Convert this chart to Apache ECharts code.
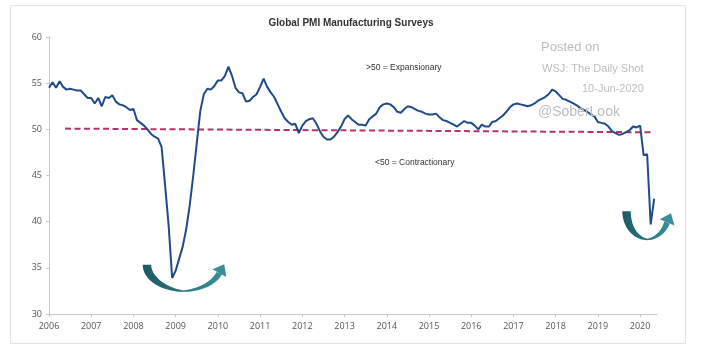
<!DOCTYPE html>
<html>
<head>
<meta charset="utf-8">
<script src="https://cdn.jsdelivr.net/npm/echarts@6/dist/echarts.min.js"></script>
<style>
  html, body { margin: 0; padding: 0; background: #fff; }
  #chart { width: 701px; height: 352px; }
</style>
</head>
<body>
<div id="chart"></div>
<script>
var startYear = 2006;
// monthly PMI, Jan 2006 .. May 2020
var pmiValues = [
  54.5, 55.1, 54.5, 55.2, 54.6, 54.3, 54.4, 54.3, 54.2, 54.2, 53.8, 53.4,
  53.4, 52.8, 53.4, 52.5, 53.5, 53.4, 53.7, 53.0, 52.7, 52.6, 52.4, 52.1,
  52.2, 51.0, 50.7, 50.4, 50.0, 49.5, 49.2, 49.0, 48.1, 43.9, 39.6, 33.9,
  34.7, 36.0, 37.3, 39.2, 41.8, 45.0, 48.5, 52.0, 53.8, 54.4, 54.3, 54.7,
  55.3, 55.3, 55.8, 56.8, 55.8, 54.5, 54.0, 53.9, 53.0, 53.1, 53.5, 53.8,
  54.6, 55.5, 54.6, 54.0, 53.5, 52.7, 51.9, 51.2, 50.8, 50.5, 50.6, 49.6,
  50.4, 50.9, 51.1, 51.2, 50.6, 49.8, 49.2, 48.9, 48.9, 49.2, 49.7, 50.3,
  51.1, 51.5, 51.1, 50.8, 50.5, 50.5, 50.4, 51.1, 51.4, 51.7, 52.4, 52.7,
  52.8, 52.7, 52.4, 51.9, 51.8, 52.2, 52.5, 52.4, 52.2, 52.0, 51.9, 51.7,
  51.6, 51.6, 51.7, 51.3, 51.0, 50.9, 50.7, 50.5, 50.3, 50.6, 50.9, 50.7,
  50.7, 50.4, 50.0, 50.5, 50.3, 50.3, 50.8, 50.9, 51.2, 51.5, 51.9, 52.4,
  52.7, 52.8, 52.7, 52.6, 52.5, 52.6, 52.8, 53.1, 53.3, 53.5, 53.8, 54.3,
  54.1, 53.7, 53.3, 53.2, 53.0, 52.8, 52.6, 52.3, 52.1, 51.9, 51.6, 51.4,
  50.8, 50.7, 50.6, 50.3, 49.8, 49.6, 49.4, 49.5, 49.7, 49.9, 50.3, 50.2,
  50.4, 47.2, 47.3, 39.7, 42.5
];
var yearTicks = [2006, 2007, 2008, 2009, 2010, 2011, 2012, 2013, 2014, 2015, 2016, 2017, 2018, 2019, 2020];
var trendLine = [[2006.38, 50.08], [2020.26, 49.68]];
// arrow anchors (data coords of the bowl bottom)
var arrowSpots = [[2009.19, 32.4], [2020.17, 38.0]];

var pmiData = pmiValues.map(function (v, i) {
  return [startYear + i / 12, v];
});

var chart = echarts.init(document.getElementById('chart'));

var option = {
  animation: false,
  backgroundColor: '#fff',
  grid: { left: 49, right: 44, top: 37, bottom: 38 },
  title: {
    text: 'Global PMI Manufacturing Surveys',
    left: 346, top: 13, textAlign: 'center',
    textStyle: { fontFamily: 'Liberation Sans', fontSize: 10, fontWeight: 'bold', color: '#333' }
  },
  xAxis: {
    type: 'value', min: 2006, max: 2020.4,
    axisLine: { lineStyle: { color: '#c8c8c8' } },
    axisTick: { show: true, length: 3, customValues: yearTicks, lineStyle: { color: '#c8c8c8' } },
    axisLabel: {
      customValues: yearTicks, margin: 8,
      color: '#555', fontSize: 9, fontFamily: 'Open Sans',
      formatter: function (v) { return String(Math.round(v)); }
    },
    splitLine: { show: false }
  },
  yAxis: {
    type: 'value', min: 30, max: 60, interval: 5,
    axisLine: { show: true, lineStyle: { color: '#c8c8c8' } },
    axisTick: { show: true, length: 3, lineStyle: { color: '#c8c8c8' } },
    axisLabel: { color: '#555', fontSize: 9, fontFamily: 'Open Sans', margin: 7 },
    splitLine: { show: false }
  },
  series: [
    {
      type: 'line', data: trendLine, symbol: 'none', z: 2,
      lineStyle: { color: '#b5336b', width: 2, type: [6, 3.5] }
    },
    {
      type: 'line', data: pmiData, symbol: 'none', z: 3,
      lineStyle: { color: '#1f4b87', width: 2 }
    }
  ]
};
chart.setOption(option);

// curved teal arrow: c is the bottom of the bowl in pixels
function arrowShapes(c, rx, ry, tEnd, wEnd) {
  var n = 40, cx = c[0], cy = c[1] - ry;
  function width(t) {
    if (t > Math.PI / 2) return 1.5 + 7 * Math.pow(Math.abs(Math.cos(t)), 1.1);
    return 1.5 + (wEnd - 1.5) * Math.pow(Math.cos(t) / Math.cos(tEnd), 1.1);
  }
  var outer = [], inner = [];
  for (var i = 0; i <= n; i++) {
    var t = Math.PI - (Math.PI - tEnd) * i / n;
    var w = width(t);
    outer.push([cx + rx * Math.cos(t), cy + ry * Math.sin(t)]);
    inner.push([cx + (rx - w) * Math.cos(t), cy + (ry - w) * Math.sin(t)]);
  }
  var poly = outer.concat(inner.reverse());
  var ex = cx + (rx - wEnd / 2) * Math.cos(tEnd), ey = cy + (ry - wEnd / 2) * Math.sin(tEnd);
  var dx = rx * Math.sin(tEnd), dy = -ry * Math.cos(tEnd);
  var len = Math.sqrt(dx * dx + dy * dy); dx /= len; dy /= len;
  var nx = -dy, ny = dx;
  var hw = 8, hl = 10;
  var head = [
    [ex + nx * hw, ey + ny * hw],
    [ex + dx * hl, ey + dy * hl],
    [ex - nx * hw, ey - ny * hw]
  ];
  return { body: poly, head: head };
}

var grad = {
  type: 'linear', x: 0, y: 0, x2: 1, y2: 0,
  colorStops: [{ offset: 0, color: '#1c5a63' }, { offset: 0.5, color: '#2a7680' }, { offset: 1, color: '#3a8f99' }]
};

var p1 = chart.convertToPixel({ gridIndex: 0 }, arrowSpots[0]);
var p2 = chart.convertToPixel({ gridIndex: 0 }, arrowSpots[1]);
var a1 = arrowShapes(p1, 41, 27, 0.35, 6);
var a2 = arrowShapes(p2, 25, 29, 0.45, 6);

var txt = function (x, y, s, size, color) {
  return {
    type: 'text', left: x, top: y, z: 10,
    style: { text: s, fontSize: size, fontFamily: 'Liberation Sans', fill: color || '#bdbdbd' }
  };
};

chart.setOption({
  graphic: [
    { type: 'rect', shape: { x: 10.5, y: 5.5, width: 675, height: 338 }, style: { fill: 'none', stroke: '#e3e3e3', lineWidth: 1 }, z: -1 },
    { type: 'polygon', shape: { points: a1.body }, style: { fill: grad }, z: 5 },
    { type: 'polygon', shape: { points: a1.head }, style: { fill: '#3a8f99' }, z: 5 },
    { type: 'polygon', shape: { points: a2.body }, style: { fill: grad }, z: 5 },
    { type: 'polygon', shape: { points: a2.head }, style: { fill: '#3a8f99' }, z: 5 },
    txt(366, 63, '>50 = Expansionary', 8.5, '#333'),
    txt(375, 158, '<50 = Contractionary', 8.5, '#333'),
    txt(541, 41, 'Posted on', 13),
    txt(542, 63, 'WSJ: The Daily Shot', 11),
    txt(582, 83, '10-Jun-2020', 11),
    txt(538, 105, '@SoberLook', 14)
  ]
});
</script>
</body>
</html>
